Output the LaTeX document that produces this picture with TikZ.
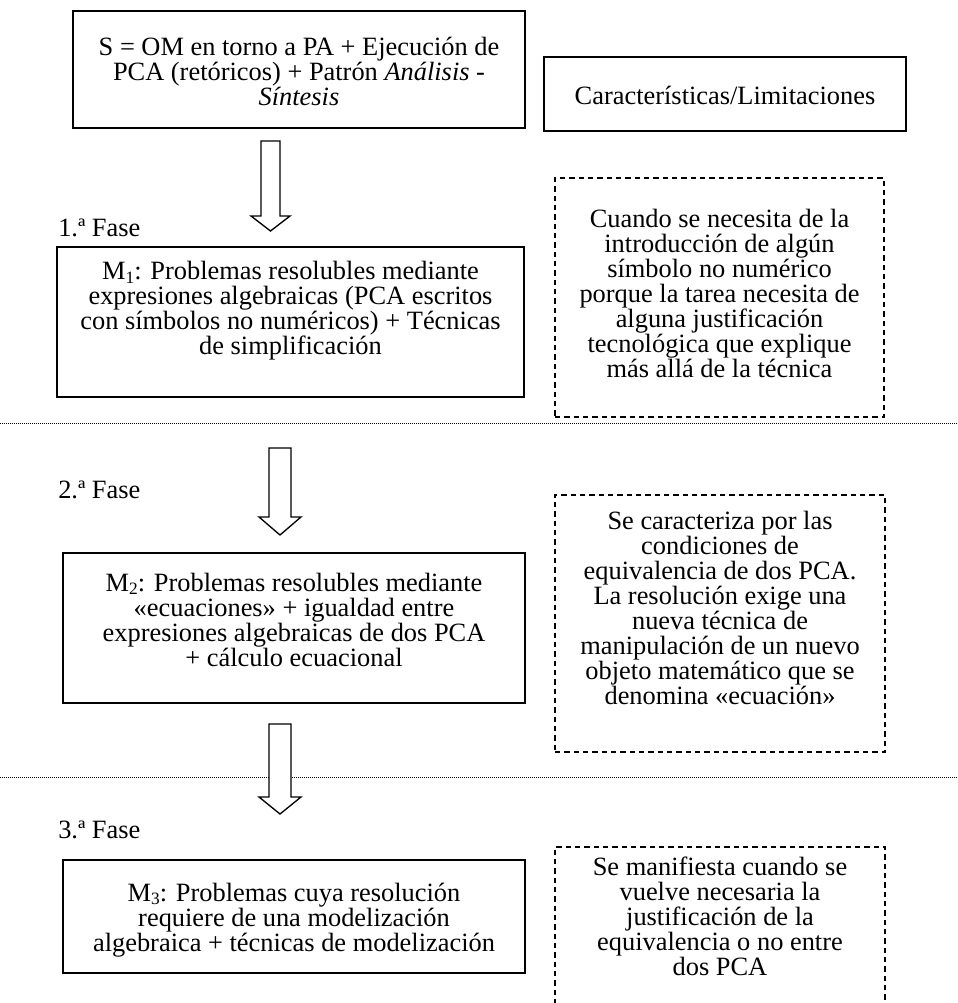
\documentclass[tikz,border=0pt]{standalone}
\usepackage{fontspec}
\setmainfont{Liberation Serif}
\tikzset{
  solidbox/.style={draw, line width=1pt, inner sep=0pt},
  dashbox/.style={draw, line width=1pt, dash pattern=on 4pt off 3pt, inner sep=0pt},
  txt/.style={align=center, inner sep=0pt, font=\fontsize{19.8}{18.75}\selectfont},
  dotline/.style={line width=0.6pt, dash pattern=on 0.6pt off 0.9pt},
  blkarrow/.style={draw, fill=white, line width=1pt, line join=miter},
}
\newcommand\fatarrow[6]{%
  \draw[blkarrow] (#1-#5,#2) -- (#1+#5,#2) -- (#1+#5,#3) -- (#1+#6,#3) -- (#1,#4) -- (#1-#6,#3) -- (#1-#5,#3) -- cycle;}
\newcommand\msub[1]{\raisebox{-0.12em}{\fontsize{13}{13}\selectfont #1}}
\begin{document}
\begin{tikzpicture}[x=0.75pt,y=-0.75pt]
\useasboundingbox (0,0) rectangle (957,1003);
% dotted separators
\coordinate (d1l) at (0,423);  \coordinate (d1r) at (957,423);
\coordinate (d2l) at (0,777);  \coordinate (d2r) at (957,777);
\draw[dotline] (d1l) -- (d1r);
\draw[dotline] (d2l) -- (d2r);
% top row
\node[solidbox, minimum width=452*0.75pt, minimum height=117*0.75pt] (S) at (299,69.5) {};
\node[txt] (St) at (299,71) {S = OM en torno a PA + Ejecución de\\PCA (retóricos) + Patrón \textit{Análisis} -\\\textit{Síntesis}};
\node[solidbox, minimum width=362*0.75pt, minimum height=74*0.75pt] (C) at (725,94) {};
\node[txt] (Ct) at (725,95) {Características/Limitaciones};
% phase 1
\node[txt, anchor=west] (f1) at (58,228) {1.ª Fase};
\node[dashbox, minimum width=329*0.75pt, minimum height=239*0.75pt] (D1) at (719.5,297.5) {};
\node[txt] (D1t) at (719.5,293) {Cuando se necesita de la\\introducción de algún\\símbolo no numérico\\porque la tarea necesita de\\alguna justificación\\tecnológica que explique\\más allá de la técnica};
\node[solidbox, minimum width=467*0.75pt, minimum height=150*0.75pt] (M1) at (290.5,322) {};
\node[txt] (M1t) at (290.5,311) {M\msub{1}: Problemas resolubles mediante\\expresiones algebraicas (PCA escritos\\con símbolos no numéricos) + Técnicas\\de simplificación};
% phase 2
\node[txt, anchor=west] (f2) at (58,490) {2.ª Fase};
\node[dashbox, minimum width=330*0.75pt, minimum height=257*0.75pt] (D2) at (720,623.5) {};
\node[txt] (D2t) at (720,608) {Se caracteriza por las\\condiciones de\\equivalencia de dos PCA.\\La resolución exige una\\nueva técnica de\\manipulación de un nuevo\\objeto matemático que se\\denomina «ecuación»};
\node[solidbox, minimum width=462*0.75pt, minimum height=150*0.75pt] (M2) at (294,628) {};
\node[txt] (M2t) at (294,620) {M\msub{2}: Problemas resolubles mediante\\«ecuaciones» + igualdad entre\\expresiones algebraicas de dos PCA\\+ cálculo ecuacional};
% phase 3
\node[txt, anchor=west] (f3) at (58,830) {3.ª Fase};
\node[dashbox, minimum width=330*0.75pt, minimum height=168*0.75pt] (D3) at (720,931) {};
\node[txt] (D3t) at (720,916) {Se manifiesta cuando se\\vuelve necesaria la\\justificación de la\\equivalencia o no entre\\dos PCA};
\node[solidbox, minimum width=462*0.75pt, minimum height=113*0.75pt] (M3) at (294,916.5) {};
\node[txt] (M3t) at (294,920) {M\msub{3}: Problemas cuya resolución\\requiere de una modelización\\algebraica + técnicas de modelización};
% block arrows
\fatarrow{270.5}{141}{216}{231}{9.5}{19.5}
\fatarrow{280}{448}{517}{535}{11}{21}
\fatarrow{280}{724}{797}{814}{11}{21}
\end{tikzpicture}
\end{document}
